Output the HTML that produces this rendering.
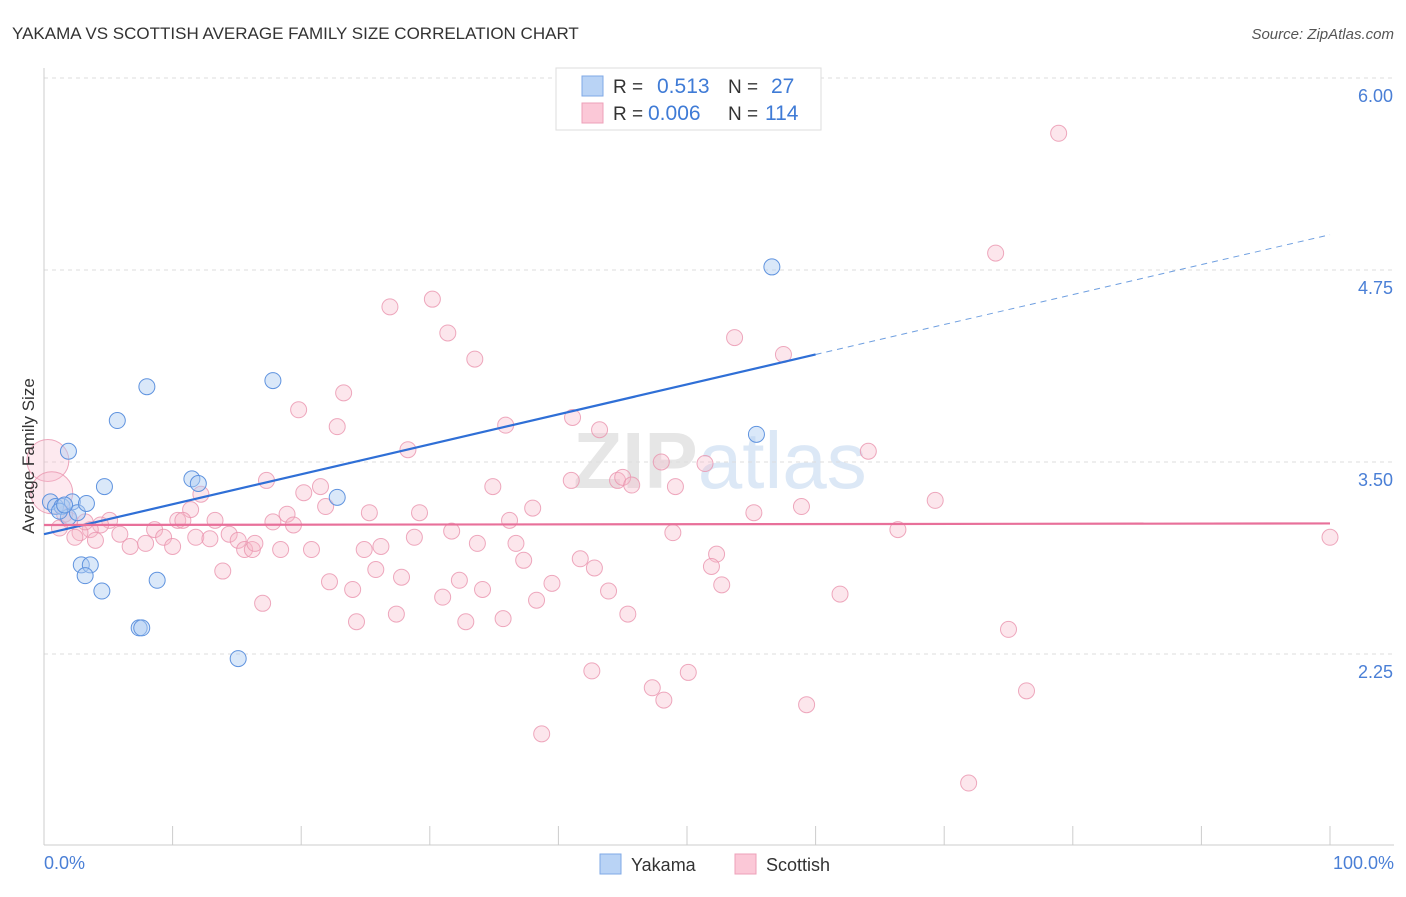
<!DOCTYPE html>
<html><head><meta charset="utf-8"><style>
body{margin:0;background:#fff;font-family:"Liberation Sans",sans-serif;}
svg text{font-family:"Liberation Sans",sans-serif;}
</style></head><body>
<svg id="chart" width="1406" height="892" xmlns="http://www.w3.org/2000/svg">
<text x="12" y="39" font-size="17" fill="#333">YAKAMA VS SCOTTISH AVERAGE FAMILY SIZE CORRELATION CHART</text>
<text x="1394" y="39" font-size="15" fill="#555" font-style="italic" text-anchor="end">Source: ZipAtlas.com</text>
<text x="720" y="488" font-size="80" fill="#e6e6e6" text-anchor="middle" font-weight="bold">ZIP<tspan fill="#dce8f6" font-weight="normal">atlas</tspan></text>
<g id="grid"></g>
<g id="axes"></g>
<g id="pts"></g>
<g id="lines"></g>
<text transform="translate(34,456) rotate(-90)" font-size="17" fill="#333" text-anchor="middle">Average Family Size</text>
<text x="44" y="869" font-size="18" fill="#4a7fd6">0.0%</text>
<text x="1394" y="869" font-size="18" fill="#4a7fd6" text-anchor="end">100.0%</text>
<g>
<rect x="556" y="68" width="265" height="62" fill="#fff" stroke="#ddd"/>
<rect x="582" y="76" width="21" height="20" fill="#b9d3f5" stroke="#7fa8e6"/>
<text x="613" y="93" font-size="19" fill="#333">R =</text>
<text x="657" y="93" font-size="21" fill="#3f7bd6">0.513</text>
<text x="728" y="93" font-size="19" fill="#333">N =</text>
<text x="771" y="93" font-size="21" fill="#3f7bd6">27</text>
<rect x="582" y="103" width="21" height="20" fill="#fbc8d7" stroke="#eea0b8"/>
<text x="613" y="120" font-size="19" fill="#333">R =</text>
<text x="648" y="120" font-size="21" fill="#3f7bd6">0.006</text>
<text x="728" y="120" font-size="19" fill="#333">N =</text>
<text x="765" y="120" font-size="21" fill="#3f7bd6">114</text>
</g>
<g>
<rect x="600" y="854" width="21" height="20" fill="#b9d3f5" stroke="#7fa8e6"/>
<text x="631" y="871" font-size="18" fill="#333">Yakama</text>
<rect x="735" y="854" width="21" height="20" fill="#fbc8d7" stroke="#eea0b8"/>
<text x="766" y="871" font-size="18" fill="#333">Scottish</text>
</g>
</svg>
<script>
const yTicks=[6.00,4.75,3.50,2.25];
const xTickCount=10;
const yakamaX=[0.5,0.9,1.4,1.9,2.2,2.6,3.3,1.9,4.7,5.7,8.0,2.9,3.6,3.2,4.5,8.8,7.4,7.6,15.1,17.8,11.5,12.0,22.8,55.4,56.6,1.2,1.6];
const yakamaY=[3.24,3.21,3.21,3.14,3.24,3.17,3.23,3.57,3.34,3.77,3.99,2.83,2.83,2.76,2.66,2.73,2.42,2.42,2.22,4.03,3.39,3.36,3.27,3.68,4.77,3.18,3.22];
const scotX=[78.9,74.0,26.9,30.2,31.4,33.5,53.7,57.5,23.3,19.8,22.8,35.9,41.1,43.2,28.3,48.0,51.4,64.1,41.0,44.6,45.0,45.7,49.1,34.9,17.3,21.5,20.2,12.2,69.3,58.9,38.0,21.9,25.3,29.2,55.2,18.9,11.4,13.3,17.8,19.4,36.2,10.4,10.8,31.7,48.9,66.4,100,8.6,9.3,14.4,5.1,5.9,6.7,7.9,10.0,11.8,12.9,15.1,15.6,16.2,16.4,18.4,20.8,24.9,26.2,28.8,33.7,36.7,41.7,52.3,51.9,13.9,25.8,27.8,22.2,24.0,32.3,34.1,37.3,39.5,42.8,43.9,52.7,61.9,31.0,17.0,38.3,24.3,27.4,32.8,35.7,45.4,75.0,42.6,50.1,47.3,48.2,59.3,76.4,38.7,71.9,4.4,3.6,2.8,2.0,1.2,2.4,4.0,3.2,1.6,0.3,0.6];
const scotY=[5.64,4.86,4.51,4.56,4.34,4.17,4.31,4.20,3.95,3.84,3.73,3.74,3.79,3.71,3.58,3.50,3.49,3.57,3.38,3.38,3.40,3.35,3.34,3.34,3.38,3.34,3.30,3.29,3.25,3.21,3.20,3.21,3.17,3.17,3.17,3.16,3.19,3.12,3.11,3.09,3.12,3.12,3.12,3.05,3.04,3.06,3.01,3.06,3.01,3.03,3.12,3.03,2.95,2.97,2.95,3.01,3.00,2.99,2.93,2.93,2.97,2.93,2.93,2.93,2.95,3.01,2.97,2.97,2.87,2.90,2.82,2.79,2.80,2.75,2.72,2.67,2.73,2.67,2.86,2.71,2.81,2.66,2.70,2.64,2.62,2.58,2.60,2.46,2.51,2.46,2.48,2.51,2.41,2.14,2.13,2.03,1.95,1.92,2.01,1.73,1.41,3.09,3.06,3.04,3.12,3.07,3.01,2.99,3.11,3.16,3.51,3.30];
const yakamaFit=[3.03,4.98];
const scotFit=[3.09,3.10];
const NS="http://www.w3.org/2000/svg";
const sx=v=>44+v*12.86;
const sy=v=>78+(6-v)*153.6;
function mk(tag,parent,attrs){const e=document.createElementNS(NS,tag);for(const k in attrs)e.setAttribute(k,attrs[k]);document.getElementById(parent).appendChild(e);return e;}
yTicks.forEach(t=>{
 const g=mk('line','grid',{x1:44,x2:1394,y1:sy(t),y2:sy(t),stroke:'#ddd','stroke-dasharray':'4,4'});
 
 
 const l=mk('text','grid',{x:1393,y:sy(t)+24,'font-size':18,fill:'#4a7fd6','text-anchor':'end'});
 l.textContent=t.toFixed(2);
 
 
});
const ax=mk('line','axes',{x1:44,x2:44,y1:68,y2:845,stroke:'#ccc'});


const bx=mk('line','axes',{x1:44,x2:1394,y1:845,y2:845,stroke:'#ccc'});


for(let i=0;i<=xTickCount;i++){
 const t=mk('line','axes',{x1:sx(i*10),x2:sx(i*10),y1:826,y2:845,stroke:'#ccc'});
 
 
}
scotX.forEach((x,i)=>{
 const big=i>=scotX.length-2;
 const c=mk('circle','pts',{cx:sx(x),cy:sy(scotY[i]),r:big?21:8,fill:'#f7b6c9','fill-opacity':big?0.3:0.35,stroke:'#ea93ae','stroke-opacity':0.8,'stroke-width':1});
 
 
});
yakamaX.forEach((x,i)=>{
 const c=mk('circle','pts',{cx:sx(x),cy:sy(yakamaY[i]),r:8,fill:'#aecbf1','fill-opacity':0.45,stroke:'#5f93df','stroke-width':1});
 
 
});
const ym=v=>yakamaFit[0]+(yakamaFit[1]-yakamaFit[0])*v/100;
const l1=mk('line','lines',{x1:sx(0),y1:sy(ym(0)),x2:sx(60),y2:sy(ym(60)),stroke:'#2f6fd6','stroke-width':2.2});


const l2=mk('line','lines',{x1:sx(60),y1:sy(ym(60)),x2:sx(100),y2:sy(ym(100)),stroke:'#6f9fe0','stroke-width':1,'stroke-dasharray':'6,5'});


const l3=mk('line','lines',{x1:sx(0),y1:sy(scotFit[0]),x2:sx(100),y2:sy(scotFit[1]),stroke:'#e8709a','stroke-width':2.2});


</script>
</body></html>
